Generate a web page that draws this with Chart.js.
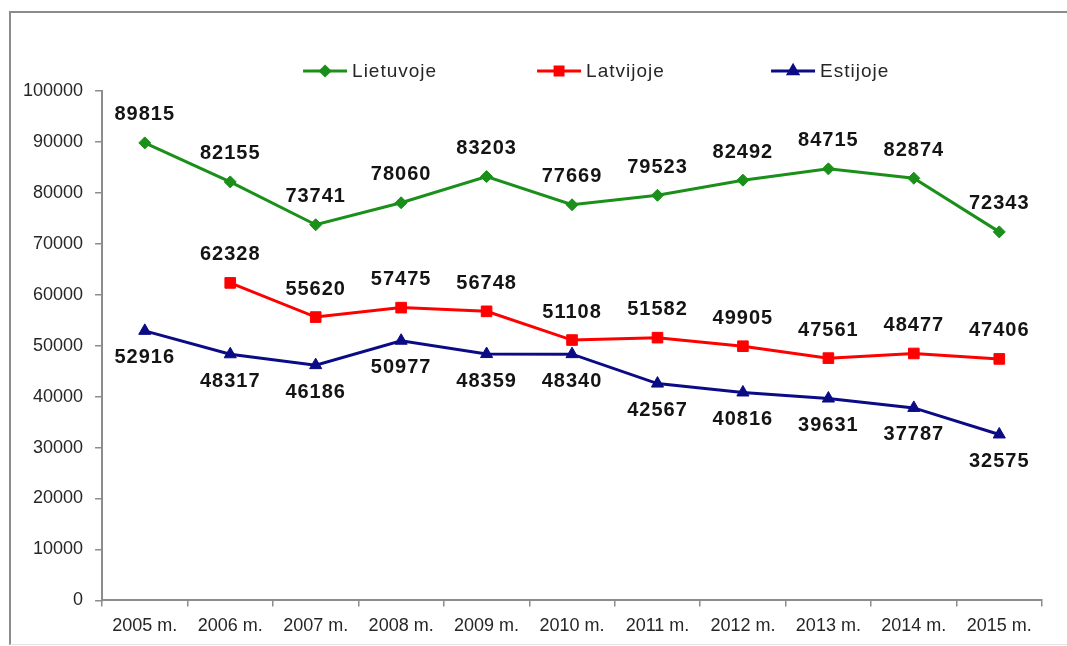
<!DOCTYPE html>
<html>
<head>
<meta charset="utf-8">
<script src="https://cdn.jsdelivr.net/npm/chart.js@4.4.0/dist/chart.umd.min.js"></script>
<style>
    html, body { margin: 0; padding: 0; background: #fff; }
    #frame {
        position: absolute; left: 9px; top: 11px; width: 1100px; height: 631px;
        border-top: 2px solid #8c8c8c; border-left: 2px solid #8c8c8c; border-bottom: 1px solid #e4e4e4;
    }
    #wrap { position: absolute; left: 0; top: 0; width: 1067px; height: 646px; }
</style>
</head>
<body>
<div id="frame"></div>
<div id="wrap"><canvas id="chart"></canvas></div>
<script>
const years = ['2005 m.', '2006 m.', '2007 m.', '2008 m.', '2009 m.', '2010 m.',
    '2011 m.', '2012 m.', '2013 m.', '2014 m.', '2015 m.'];
const lietuvoje = [89815, 82155, 73741, 78060, 83203, 77669, 79523, 82492, 84715, 82874, 72343];
const latvijoje = [null, 62328, 55620, 57475, 56748, 51108, 51582, 49905, 47561, 48477, 47406];
const estijoje = [52916, 48317, 46186, 50977, 48359, 48340, 42567, 40816, 39631, 37787, 32575];
const seriesNames = ['Lietuvoje', 'Latvijoje', 'Estijoje'];
const yMin = 0;
const yMax = 100000;
const yStep = 10000;

const FONT = '"Liberation Sans", Arial, sans-serif';
const axisColor = '#8c8c8c';

// numbers next to every point (above for the first two series, below for Estija)
const valueLabels = {
    id: 'valueLabels',
    afterDatasetsDraw(chart) {
        const ctx = chart.ctx;
        ctx.save();
        ctx.font = 'bold 20px ' + FONT;
        ctx.letterSpacing = '1px';
        ctx.fillStyle = '#141414';
        ctx.textAlign = 'center';
        ctx.textBaseline = 'middle';
        chart.data.datasets.forEach((ds, i) => {
            const meta = chart.getDatasetMeta(i);
            meta.data.forEach((pt, j) => {
                const v = ds.data[j];
                if (v == null) return;
                const dy = ds.labelBelow ? 27 : -28;
                ctx.fillText(String(v), pt.x, pt.y + dy);
            });
        });
        ctx.restore();
    }
};

// legend drawn as line + marker like the original
const lineLegend = {
    id: 'lineLegend',
    afterDraw(chart) {
        const ctx = chart.ctx;
        const area = chart.chartArea;
        const y = 71;
        let x = area.left + 201;
        ctx.save();
        ctx.font = '19px ' + FONT;
        ctx.letterSpacing = '1px';
        ctx.textBaseline = 'middle';
        ctx.textAlign = 'left';
        chart.data.datasets.forEach(ds => {
            ctx.strokeStyle = ds.borderColor;
            ctx.fillStyle = ds.borderColor;
            ctx.lineWidth = 3;
            ctx.beginPath();
            ctx.moveTo(x, y);
            ctx.lineTo(x + 44, y);
            ctx.stroke();
            Chart.helpers.drawPoint(ctx, {
                pointStyle: ds.pointStyle, radius: ds.pointRadius * 0.75, borderWidth: 1, rotation: 0
            }, x + 22, y);
            ctx.fillStyle = '#262626';
            ctx.fillText(ds.label, x + 49, y + 1);
            x += 234;
        });
        ctx.restore();
    }
};

const ctx = document.getElementById('chart').getContext('2d');

const chart = new Chart(ctx, {
    type: 'line',
    data: {
        labels: years,
        datasets: [{
            label: seriesNames[0],
            data: lietuvoje,
            borderColor: '#1a8f1a',
            backgroundColor: '#1a8f1a',
            pointStyle: 'rectRot',
            pointRadius: 6
        }, {
            label: seriesNames[1],
            data: latvijoje,
            borderColor: '#ff0000',
            backgroundColor: '#ff0000',
            pointStyle: 'rect',
            pointRadius: 7.5
        }, {
            label: seriesNames[2],
            data: estijoje,
            borderColor: '#0b0b85',
            backgroundColor: '#0b0b85',
            pointStyle: 'triangle',
            pointRadius: 7,
            labelBelow: true
        }]
    },
    options: {
        responsive: true,
        maintainAspectRatio: false,
        animation: false,
        layout: {
            padding: { top: 91, left: 11, right: 25, bottom: 0 }
        },
        elements: {
            line: { borderWidth: 3, tension: 0 },
            point: { borderWidth: 1, hoverRadius: 7 }
        },
        plugins: {
            legend: { display: false },
            tooltip: { enabled: false }
        },
        scales: {
            x: {
                offset: true,
                grid: {
                    offset: true,
                    drawOnChartArea: false,
                    drawTicks: true,
                    tickLength: 6,
                    color: axisColor,
                    lineWidth: 1.5
                },
                border: { color: axisColor, width: 2 },
                ticks: {
                    color: '#262626',
                    font: { family: FONT, size: 18 },
                    padding: 9,
                    maxRotation: 0,
                    autoSkip: false
                }
            },
            y: {
                min: yMin,
                max: yMax,
                grid: {
                    drawOnChartArea: false,
                    drawTicks: true,
                    tickLength: 7,
                    color: axisColor,
                    lineWidth: 1.5
                },
                border: { color: axisColor, width: 2 },
                ticks: {
                    stepSize: yStep,
                    color: '#262626',
                    font: { family: FONT, size: 18 },
                    padding: 12,
                    callback: function (value) {
                        return value;
                    }
                }
            }
        }
    },
    plugins: [valueLabels, lineLegend]
});
</script>
</body>
</html>
